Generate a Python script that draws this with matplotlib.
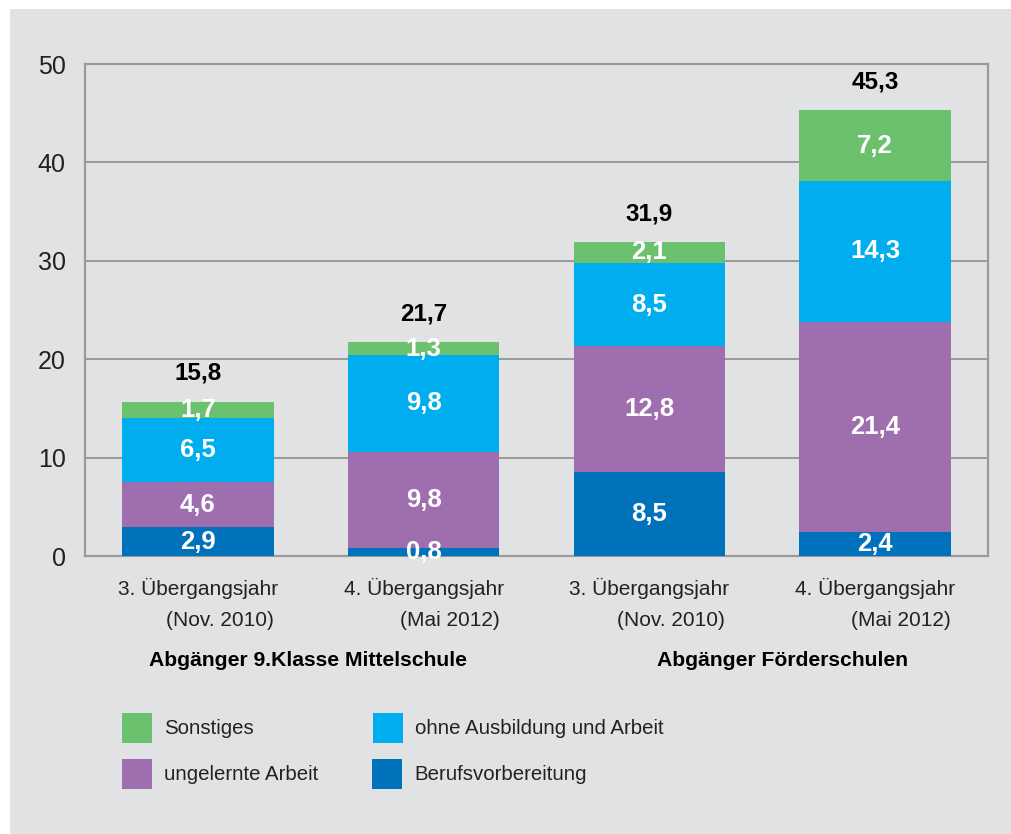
import matplotlib
matplotlib.use("Agg")
import matplotlib.pyplot as plt
from matplotlib.patches import Rectangle
import matplotlib.transforms as mtransforms

plt.rcParams['font.family'] = ['Liberation Sans', 'DejaVu Sans']

# ---- data ----
categories_line1 = ["3. Übergangsjahr", "4. Übergangsjahr", "3. Übergangsjahr", "4. Übergangsjahr"]
categories_line2 = ["(Nov. 2010)", "(Mai 2012)", "(Nov. 2010)", "(Mai 2012)"]
groups = ["Abgänger 9.Klasse Mittelschule", "Abgänger Förderschulen"]
series_names = ["Berufsvorbereitung", "ungelernte Arbeit", "ohne Ausbildung und Arbeit", "Sonstiges"]
berufsvorbereitung = [2.9, 0.8, 8.5, 2.4]
ungelernte_arbeit = [4.6, 9.8, 12.8, 21.4]
ohne_ausbildung = [6.5, 9.8, 8.5, 14.3]
sonstiges = [1.7, 1.3, 2.1, 7.2]
totals = [15.8, 21.7, 31.9, 45.3]
yticks = [0, 10, 20, 30, 40, 50]

colors = {"Berufsvorbereitung": "#0071BB",
          "ungelernte Arbeit": "#9F6EAE",
          "ohne Ausbildung und Arbeit": "#00AEEF",
          "Sonstiges": "#6CC16E"}

BG = "#E1E2E4"
GRID = "#9A9A9A"

W, H = 1011, 834
fig = plt.figure(figsize=(W / 100, H / 100), dpi=100)
fig.patch.set_facecolor("white")
fig.add_artist(Rectangle((10 / W, 0), 1 - 10 / W, (H - 9) / H, transform=fig.transFigure,
                         facecolor=BG, edgecolor="none", zorder=-10))

ax = fig.add_axes([85 / W, (H - 556) / H, (988 - 85) / W, (556 - 64) / H])
ax.set_facecolor(BG)

x = list(range(len(totals)))
series = [berufsvorbereitung, ungelernte_arbeit, ohne_ausbildung, sonstiges]
bottom = [0.0] * len(x)
width = 0.67
for name, vals in zip(series_names, series):
    ax.bar(x, vals, width, bottom=bottom, color=colors[name], zorder=3, linewidth=0)
    for xi, v, b in zip(x, vals, bottom):
        ax.text(xi, b + v / 2, f"{v:.1f}".replace(".", ","), ha="center", va="center",
                color="white", fontsize=18.5, fontweight="bold", zorder=4)
    bottom = [b + v for b, v in zip(bottom, vals)]

for xi, top, t in zip(x, bottom, totals):
    ax.annotate(f"{t:.1f}".replace(".", ","), (xi, top), xytext=(0, 20.5),
                textcoords="offset points", ha="center", va="center",
                fontsize=17.5, fontweight="bold", color="black")

ax.set_xlim(-0.5, 3.5)
ax.set_ylim(0, 50)
ax.set_yticks(yticks)
ax.set_yticklabels([str(v) for v in yticks])
ax.tick_params(axis="y", length=0, pad=14, labelsize=18, labelcolor="#222222")
ax.set_xticks([])
ax.yaxis.grid(True, color=GRID, linewidth=1.4, zorder=1)
for s in ax.spines.values():
    s.set_color(GRID)
    s.set_linewidth(1.6)

trans = mtransforms.blended_transform_factory(ax.transData, ax.transAxes)
for xi, l1, l2 in zip(x, categories_line1, categories_line2):
    ax.annotate(l1, (xi, 0), xycoords=trans, xytext=(0, -32 * 0.72), textcoords="offset points",
                ha="center", va="center", fontsize=15, color="#222222")
    ax.annotate(l2, (xi + width / 2, 0), xycoords=trans, xytext=(0, -65 * 0.72),
                textcoords="offset points", ha="right", va="center", fontsize=15, color="#222222")

group_x = [0.49, 2.59]
for gx, g in zip(group_x, groups):
    ax.annotate(g, (gx, 0), xycoords=trans, xytext=(0, -104 * 0.72), textcoords="offset points",
                ha="center", va="center", fontsize=15.2, fontweight="bold", color="black")

# legend (manual)
legend_items = [("Sonstiges", 122, 728), ("ohne Ausbildung und Arbeit", 373, 728),
                ("ungelernte Arbeit", 122, 774), ("Berufsvorbereitung", 372, 774)]
for name, lx, ly in legend_items:
    fig.add_artist(Rectangle((lx / W, (H - ly - 15) / H), 30 / W, 30 / H,
                             transform=fig.transFigure, facecolor=colors[name], edgecolor="none"))
    fig.text((lx + 42) / W, (H - ly) / H, name, ha="left", va="center",
             fontsize=14.7, color="#222222")

fig.savefig("out.png", dpi=100, facecolor=fig.get_facecolor())
